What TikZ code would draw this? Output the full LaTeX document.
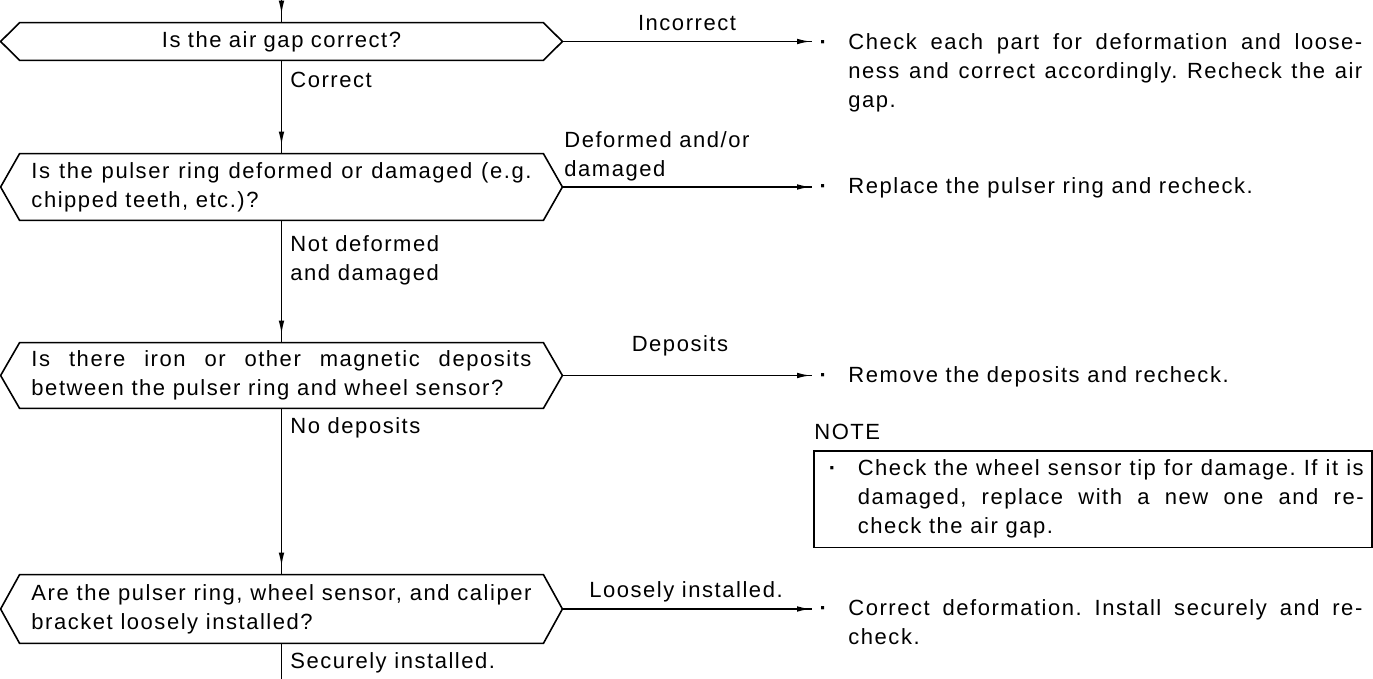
\documentclass[tikz,border=0pt]{standalone}
\usepackage{fontspec}
\setmainfont{Liberation Sans}[LetterSpace=7]
\usetikzlibrary{arrows.meta,decorations.markings}

% bullet item with hanging indent (the \par keeps the indent inside the node group)
\newcommand\dotitem[2]{\hangindent=#1\hangafter=0\noindent\llap{\textbf{\textperiodcentered}\hspace{10pt}}#2\par}
% six sided frame around a question node
\newcommand\hexframe[1]{\draw[frame] (#1.north west) -- (#1.north east) -- ([xshift=\inset]#1.east)
  -- (#1.south east) -- (#1.south west) -- ([xshift=-\inset]#1.west) -- cycle;}

\begin{document}
\frenchspacing
\begin{tikzpicture}
[x=.5pt,y=-.5pt,
 every node/.style={font=\fontsize{11pt}{14.5pt}\selectfont, inner sep=0pt},
 question/.style={minimum width=261.5pt, text width=250pt, align=justify},
 answer/.style={anchor=north west, text width=275pt, align=justify},
 tag/.style={anchor=west},
 frame/.style={line width=.8pt},
 link/.style={line width=.8pt, postaction={decorate},
   decoration={markings, mark=at position -4pt with {\arrow{Latex[length=7pt,width=2.8pt]}}}},
 branch/.style={line width=.8pt, postaction={decorate},
   decoration={markings, mark=at position -.5pt with {\arrow{Latex[length=7pt,width=2.8pt]}}}}]
\def \inset {9.5pt} % slant of the frame ends
\useasboundingbox (0,0) rectangle (1373,679);

\coordinate (top) at (281.5,0);
\coordinate (bottom) at (281.5,679);

% questions
\node[question, align=center, minimum height=18.5pt] (q1) at (281.5,41.5) {Is the air gap correct?};
\node[question, minimum height=33pt] (q2) at (281.5,187) {Is the pulser ring deformed or damaged (e.g.\linebreak chipped teeth, etc.)?};
\node[question, minimum height=32.5pt] (q3) at (281.5,375.5) {Is there iron or other magnetic deposits\linebreak between the pulser ring and wheel sensor?};
\node[question, minimum height=34pt] (q4) at (281.5,609) {Are the pulser ring, wheel sensor, and caliper\linebreak bracket loosely installed?};
\hexframe{q1}
\hexframe{q2}
\hexframe{q3}
\hexframe{q4}

% remedies
\node[answer] (a1) at (812,33) {\dotitem{18pt}{Check each part for deformation and loose-\linebreak ness and correct accordingly. Recheck the air\linebreak gap.}};
\node[answer] (a2) at (812,177) {\dotitem{18pt}{Replace the pulser ring and recheck.}};
\node[answer] (a3) at (812,366) {\dotitem{18pt}{Remove the deposits and recheck.}};
\node[answer] (a4) at (812,599) {\dotitem{18pt}{Correct deformation. Install securely and re-\linebreak check.}};

\node[tag] (note) at (814,432) {NOTE};
\node[draw, line width=.8pt, anchor=north west, text width=271pt, inner xsep=4pt, inner ysep=4.5pt, align=justify] (notebox) at (813,450)
  {\dotitem{18pt}{Check the wheel sensor tip for damage. If it is\linebreak damaged, replace with a new one and re-\linebreak check the air gap.}};

% branch labels
\node[tag] (yes1) at (290,80) {Correct};
\node[tag, anchor=north west, align=left] (yes2) at (290,235) {Not deformed\\and damaged};
\node[tag] (yes3) at (290,428) {No deposits};
\node[tag] (yes4) at (290,663) {Securely installed.};
\node (no1) at (687,23) {Incorrect};
\node[tag, anchor=north west, align=left] (no2) at (564,131) {Deformed and/or\\damaged};
\node (no3) at (680,346) {Deposits};
\node (no4) at (686,592) {Loosely installed.};

% main line
\draw[link] (top) -- (q1.north);
\draw[link] (q1.south) -- (q2.north);
\draw[link] (q2.south) -- (q3.north);
\draw[link] (q3.south) -- (q4.north);
\draw[frame] (q4.south) -- (bottom);

% side branches
\draw[branch] ([xshift=\inset]q1.east) -- (q1.east -| a1.west);
\draw[branch] ([xshift=\inset]q2.east) -- (q2.east -| a2.west);
\draw[branch] ([xshift=\inset]q3.east) -- (q3.east -| a3.west);
\draw[branch] ([xshift=\inset]q4.east) -- (q4.east -| a4.west);
\end{tikzpicture}
\end{document}
